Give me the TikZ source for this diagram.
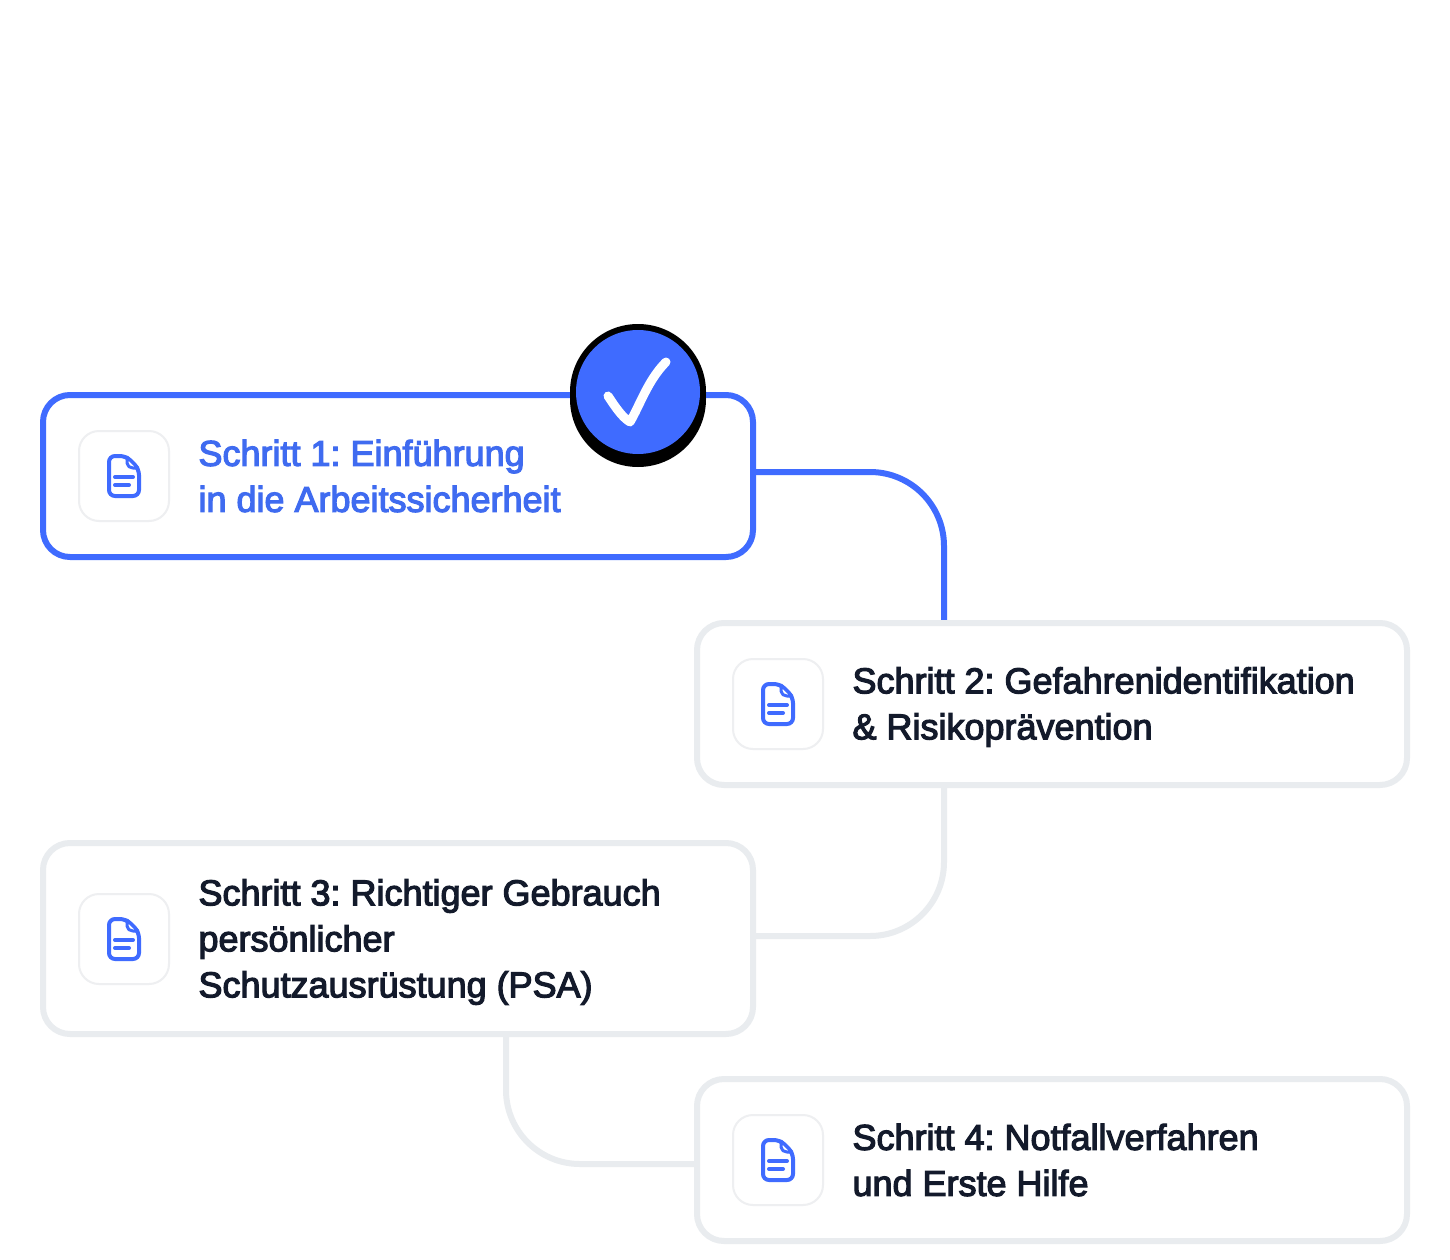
\documentclass[tikz,border=0pt]{standalone}
\usepackage{fontspec}
\setmainfont{Liberation Sans}[FakeBold=3.2]
\frenchspacing
\definecolor{blueA}{HTML}{3F6BFF}
\definecolor{blueT}{HTML}{3F6BF0}
\definecolor{grayA}{HTML}{E9ECEF}
\definecolor{grayB}{HTML}{EEEFF1}
\definecolor{darkT}{HTML}{131A2B}
\tikzset{
  card/.style={draw=grayA,line width=6pt,fill=white,rounded corners=27pt,outer sep=0pt,inner sep=0pt,minimum width=710pt},
  activecard/.style={card,draw=blueA},
  tile/.style={draw=grayB,line width=2pt,fill=white,rounded corners=20pt,outer sep=0pt,inner sep=0pt,minimum width=90pt,minimum height=90pt},
  lbl/.style={anchor=west,inner sep=0pt,outer sep=0pt,align=left,text=darkT,font=\fontsize{36}{46}\selectfont},
  activelbl/.style={lbl,text=blueT},
  wire/.style={draw=grayA,line width=6pt,rounded corners=74pt},
  activewire/.style={wire,draw=blueA},
  docicon/.pic={
    \draw[blueA,line width=4pt,line join=round,rounded corners=6pt]
      (-15,-20) -- (2,-20) -- (15,-7) -- (15,20) -- (-15,20) -- cycle;
    \draw[blueA,line width=3pt,fill=white,line join=round] (3,-19) -- (3,-13) .. controls (3,-10) and (6,-8) .. (9,-8) -- (14,-8) -- cycle;
    \draw[blueA,line width=4pt,line cap=round] (-9,1) -- (9,1) (-9,9) -- (5,9);
  }
}
\begin{document}
\begin{tikzpicture}[x=1pt,y=-1pt]
\useasboundingbox (0,0) rectangle (1450,1260);
\fill[white] (0,0) rectangle (1450,1260);
\coordinate (c1) at (398,476);
\coordinate (c2) at (1052,704);
\coordinate (c3) at (398,938.5);
\coordinate (c4) at (1052,1160);
\coordinate (j12a) at (753,472);
\coordinate (j12b) at (944,623);
\coordinate (j23a) at (944,785);
\coordinate (j23b) at (753,936);
\coordinate (j34a) at (506,1034);
\coordinate (j34b) at (697,1164);
\draw[activewire] (j12a) -| (j12b);
\draw[wire] (j23a) |- (j23b);
\draw[wire] (j34a) |- (j34b);
\node[activecard,minimum height=162pt] (s1) at (c1) {};
\node[card,minimum height=162pt] (s2) at (c2) {};
\node[card,minimum height=191pt] (s3) at (c3) {};
\node[card,minimum height=162pt] (s4) at (c4) {};
\node[tile] (i1) at (124,476) {};
\node[tile] (i2) at (778,704) {};
\node[tile] (i3) at (124,939) {};
\node[tile] (i4) at (778,1160) {};
\pic at (i1.center) {docicon};
\pic at (i2.center) {docicon};
\pic at (i3.center) {docicon};
\pic at (i4.center) {docicon};
\node[activelbl] (t1) at (198.5,476) {Schritt 1: Einführung\\in die Arbeitssicherheit};
\node[lbl] (t2) at (852.5,707) {Schritt 2: Gefahrenidentifikation\\\& Risikoprävention};
\node[lbl] (t3) at (198.5,942) {Schritt 3: Richtiger Gebrauch\\persönlicher\\Schutzausrüstung (PSA)};
\node[lbl] (t4) at (852.5,1160) {Schritt 4: Notfallverfahren\\und Erste Hilfe};
\fill[black] (638,392) circle[radius=68pt];
\fill[black] (638,399) circle[radius=68pt];
\node[circle,fill=blueA,minimum size=124pt,inner sep=0pt,outer sep=0pt] (badge) at (638,392) {};
\draw[white,line width=9pt,line cap=round,line join=round]
  (608,396) .. controls (616,408) and (622,417) .. (630,422)
  .. controls (640,405) and (648,380) .. (666,362);
\end{tikzpicture}
\end{document}
